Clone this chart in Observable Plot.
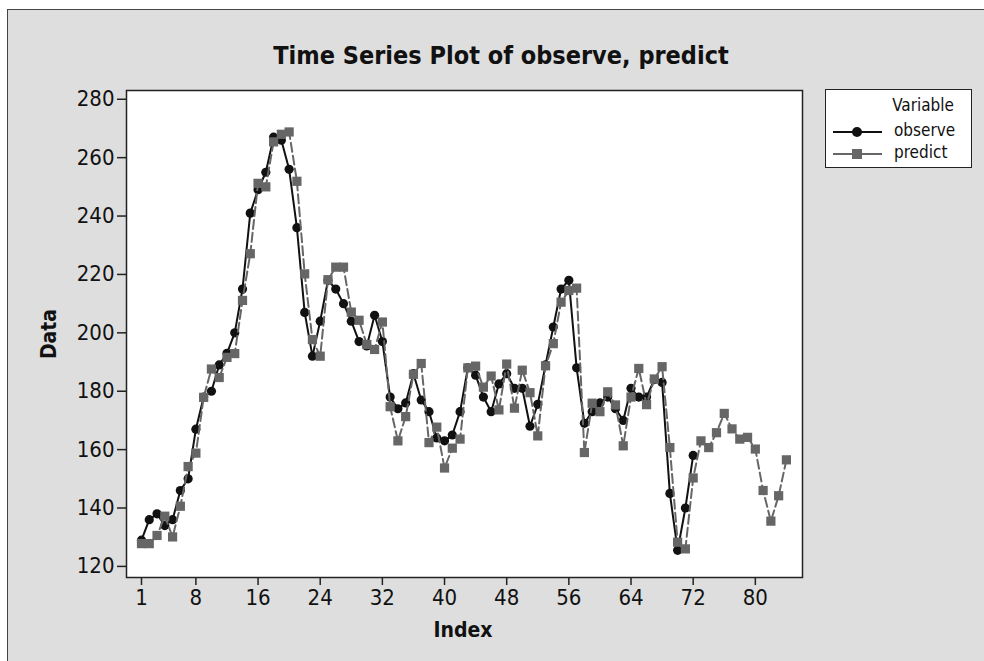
<!DOCTYPE html>
<html>
<head>
<meta charset="utf-8">
<script src="https://cdn.jsdelivr.net/npm/d3@7"></script>
<script src="https://cdn.jsdelivr.net/npm/@observablehq/plot@0.6"></script>
<style>
  html, body { margin: 0; padding: 0; background: #ffffff; }
  #wrap { position: relative; width: 984px; height: 661px; overflow: hidden; font-family: "DejaVu Sans Condensed", "DejaVu Sans", sans-serif; color: #111; }
  #panel { position: absolute; left: 7px; top: 9px; width: 990px; height: 670px; background: #dedede; border-left: 1.5px solid #444; border-top: 1.5px solid #444; }
  #chart { position: absolute; left: 0; top: 0; }
  #title { position: absolute; left: 501px; top: 41px; transform: translateX(-50%); white-space: nowrap; font-weight: bold; font-size: 25px; }
  #ylab { position: absolute; left: 49px; top: 334px; transform: translate(-50%, -50%) rotate(-90deg); font-weight: bold; font-size: 21px; }
  #xlab { position: absolute; left: 463px; top: 618px; transform: translateX(-50%); font-weight: bold; font-size: 21px; }
  #legend { position: absolute; left: 825px; top: 89px; width: 147px; height: 79px; background: #fff; border: 1.5px solid #222; box-sizing: border-box; font-size: 17px; }
  #legend .hdr { position: absolute; right: 17px; top: 5px; }
  #legend .row { position: absolute; left: 6px; width: 140px; height: 20px; }
  #legend .row span { position: absolute; left: 62px; top: -2px; white-space: nowrap; }
</style>
</head>
<body>
<div id="wrap">
  <div id="panel"></div>
  <div id="chart"></div>
  <div id="title">Time Series Plot of observe, predict</div>
  <div id="ylab">Data</div>
  <div id="xlab">Index</div>
  <div id="legend"></div>
</div>
<script>
const seriesNames = ["observe", "predict"];
const observe = [129,136,138,134,136,146,150,167,178,180,
  189,193,200,215,241,249,255,267,266,256,
  236,207,192,204,218,215,210,204,197,195.5,
  206,197,178,174,176,186,177,173,164,163,
  165,173,188,185.5,178,173,182.5,186,181,181,
  168,175.5,189,202,215,218,188,169,173,176,
  178,174,170,181,178,178,184,183,145,125.5,
  140,158];
const predict = [127.8,127.8,130.6,137.2,130.1,140.6,154.2,158.8,177.9,187.6,
  184.7,191.6,192.9,211.1,227.1,251.2,250,265.4,268,268.8,
  251.9,220.2,197.7,192,218.2,222.5,222.5,207.1,204.3,196,
  194.3,203.7,174.7,163,171.3,185.8,189.5,162.4,167.7,153.7,
  160.5,163.6,188,188.6,181.4,185.2,173.6,189.3,174.2,187.2,
  179.5,164.7,188.7,196.3,210.5,214.5,215.3,159,175.9,173,
  179.8,175.3,161.3,178,187.8,175.4,184.2,188.4,160.7,128.3,
  126,150.3,163,160.7,165.8,172.4,167.1,163.6,164.2,160.2,
  146,135.5,144.2,156.5];
const xTicks = [1,8,16,24,32,40,48,56,64,72,80];
const yTicks = [120,140,160,180,200,220,240,260,280];

const obsData = observe.map((v, i) => ({index: i + 1, value: v}));
const predData = predict.map((v, i) => ({index: i + 1, value: v}));

const obsColor = "#111111";
const predColor = "#666666";

const chart = Plot.plot({
  width: 984,
  height: 661,
  marginLeft: 126,
  marginRight: 182,
  marginTop: 90,
  marginBottom: 84,
  style: {background: "transparent", fontSize: "22px", fontFamily: "'DejaVu Sans Condensed', 'DejaVu Sans', sans-serif", color: "#111"},
  x: {domain: [-0.93, 86.07]},
  y: {domain: [116.2, 283]},
  marks: [
    Plot.frame({fill: "white", stroke: "none"}),
    Plot.axisX({ticks: xTicks, tickSize: 8, tickPadding: 4, label: null, stroke: "#222", strokeWidth: 1.5, fontSize: 22}),
    Plot.axisY({ticks: yTicks, tickSize: 9, tickPadding: 3, label: null, stroke: "#222", strokeWidth: 1.5, fontSize: 22}),
    Plot.line(obsData, {x: "index", y: "value", stroke: obsColor, strokeWidth: 2}),
    Plot.dot(obsData, {x: "index", y: "value", r: 4.6, fill: obsColor, stroke: "none", symbol: "circle"}),
    Plot.line(predData, {x: "index", y: "value", stroke: predColor, strokeWidth: 2, strokeDasharray: "9,4"}),
    Plot.dot(predData, {x: "index", y: "value", r: 5.2, fill: predColor, stroke: "none", symbol: "square"}),
    Plot.frame({stroke: "#222", strokeWidth: 1.5})
  ]
});
document.getElementById("chart").appendChild(chart);

// legend
const legend = document.getElementById("legend");
const hdr = document.createElement("div");
hdr.className = "hdr";
hdr.textContent = "Variable";
legend.appendChild(hdr);
const styles = [
  {color: obsColor, sym: "circle", top: 32},
  {color: predColor, sym: "square", top: 54}
];
seriesNames.forEach((name, i) => {
  const s = styles[i];
  const row = document.createElement("div");
  row.className = "row";
  row.style.top = s.top + "px";
  const sym = s.sym === "circle"
    ? `<circle cx="25" cy="10" r="5" fill="${s.color}"/>`
    : `<rect x="20" y="5" width="10" height="10" fill="${s.color}"/>`;
  row.innerHTML = `<svg width="52" height="20" style="position:absolute;left:0;top:0"><line x1="1" y1="10" x2="50" y2="10" stroke="${s.color}" stroke-width="2"/>${sym}</svg><span>${name}</span>`;
  legend.appendChild(row);
});
</script>
</body>
</html>
